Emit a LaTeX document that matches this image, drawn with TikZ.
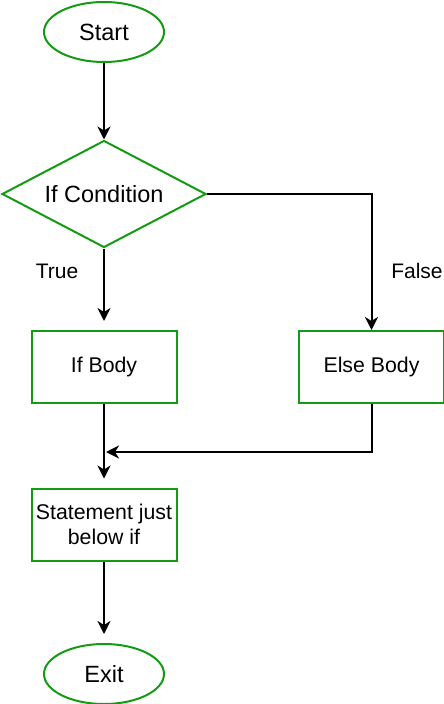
\documentclass[tikz,border=0pt]{standalone}
\usepackage{fontspec}
\setmainfont{Liberation Sans}
\usepackage{tikz}
\usetikzlibrary{shapes,arrows.meta}
\definecolor{boxgreen}{RGB}{20,155,20}

\begin{document}
\begin{tikzpicture}[x=1pt,y=-1pt,
	term/.style={ellipse,draw=boxgreen,line width=2pt,minimum width=120pt,minimum height=60pt,inner sep=0pt,font=\fontsize{23.5}{28}\selectfont},
	cond/.style={diamond,draw=boxgreen,line width=2pt,aspect=1.9,minimum width=204pt,minimum height=107pt,inner sep=0pt,font=\fontsize{23.5}{28}\selectfont},
	body/.style={rectangle,draw=boxgreen,line width=2pt,minimum width=145pt,minimum height=72pt,inner sep=0pt,align=center,font=\fontsize{21.3}{24.3}\selectfont},
	lbl/.style={font=\fontsize{21}{24}\selectfont},
	flow/.style={-{Stealth[length=13pt,width=13pt,inset=4pt]},line width=2pt}]
\useasboundingbox (0,0) rectangle (444,704);

\node[term](start) at (104,32){Start};
\node[cond](ifc) at (104,194){If Condition};
\node[body](ifb) at (104,367){If Body};
\node[body](elseb) at (371.5,367){Else Body};
\node[body](stmt) at (104,524.5){Statement just\\below if};
\node[term](exit) at (104,674){Exit};
\node[lbl](true) at (57,271){True};
\node[lbl](false) at (417,271){False};
\coordinate (join) at (106,452);

\draw[flow] (start) -- (ifc);
\draw[flow,shorten >=9pt] (ifc.south) -- (ifb.north);
\draw[flow] (ifc.east) -| (elseb.north);
\draw[flow,shorten >=9pt] (ifb) -- (stmt);
\draw[flow] (elseb.south) |- (join);
\draw[flow,shorten >=9pt] (stmt) -- (exit);
\end{tikzpicture}
\end{document}
